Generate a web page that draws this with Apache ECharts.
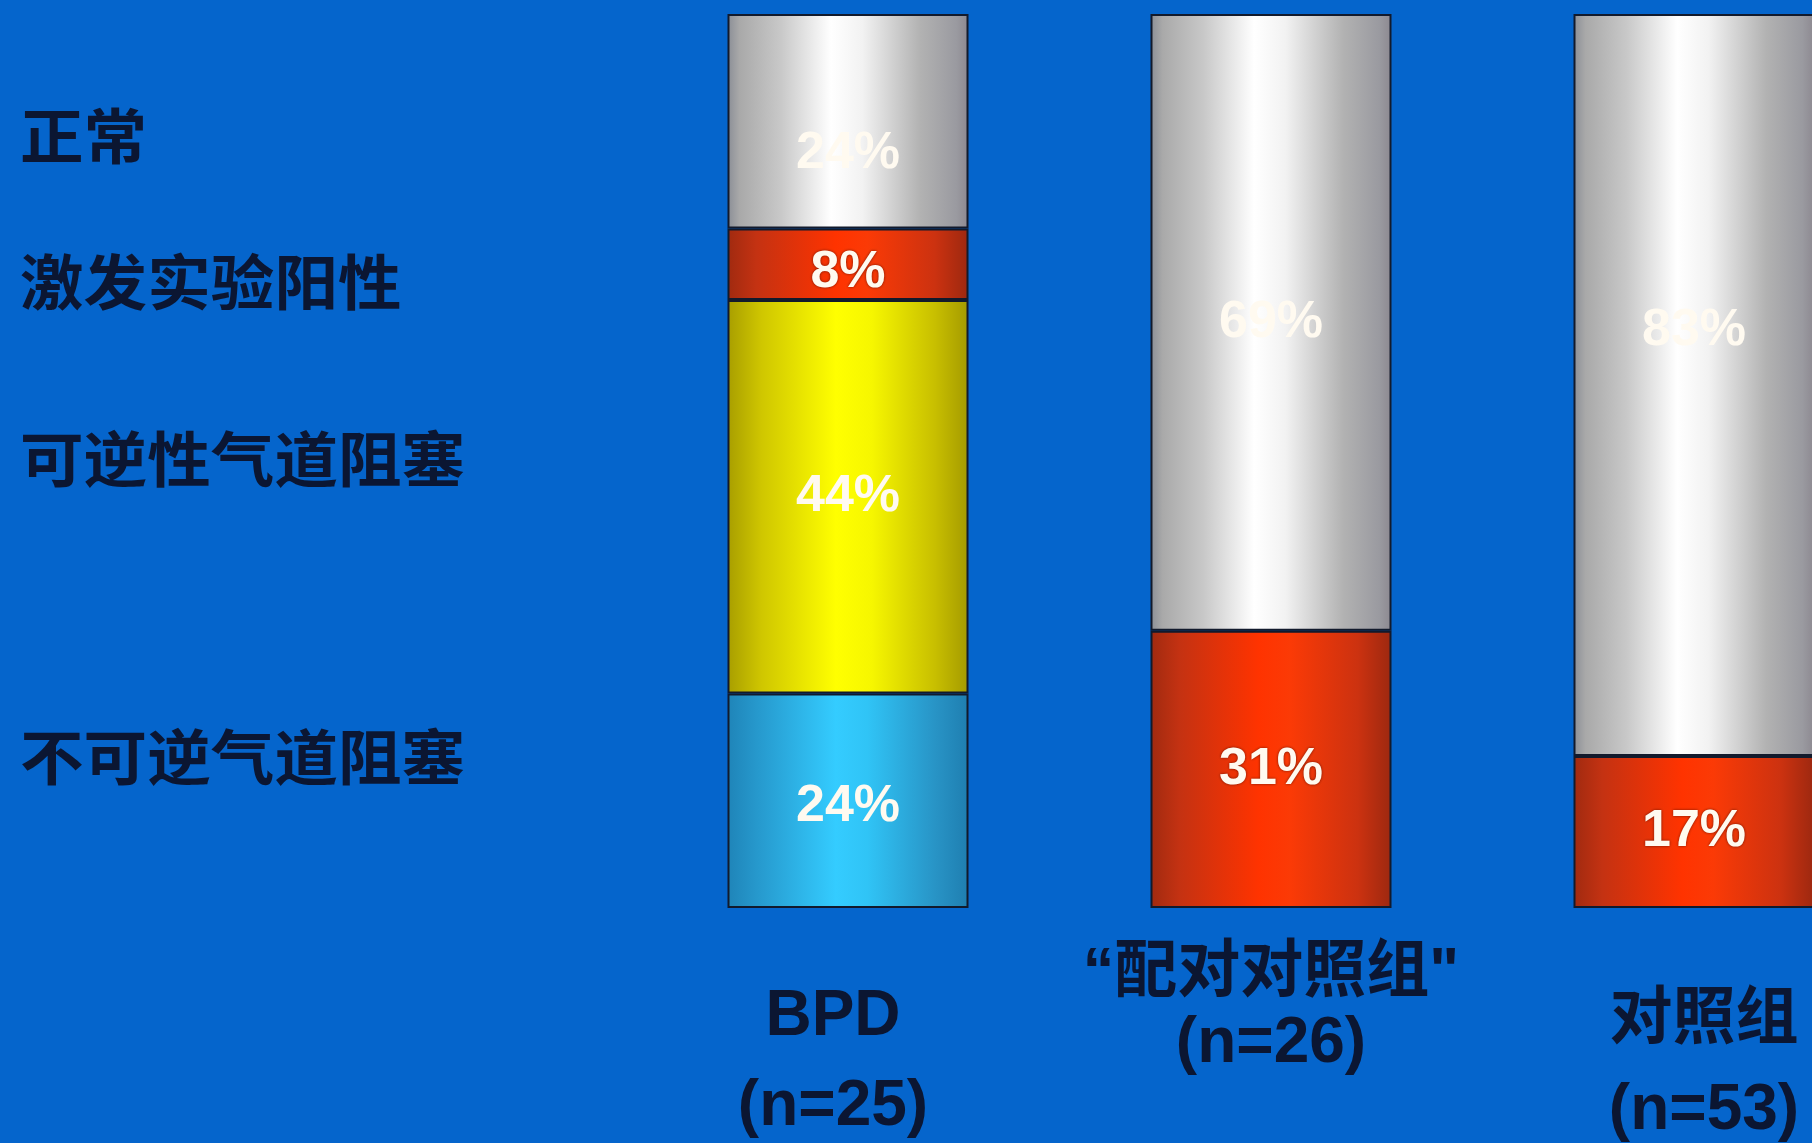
<!DOCTYPE html>
<html>
<head>
<meta charset="utf-8">
<script src="https://cdn.jsdelivr.net/npm/echarts@6/dist/echarts.min.js"></script>
<style>
  html, body { margin: 0; padding: 0; background: #0565cc; overflow: hidden; }
  /* the last column runs past the right edge of the page */
  #chart { width: 1910px; height: 1143px; }
</style>
</head>
<body>
<div id="chart"></div>
<script>
// Groups and their sample sizes
const groups = ['BPD', '“配对对照组"', '对照组'];
const groupSizes = [25, 26, 53];

// Lung-function outcome shares (%) per group, stacked bottom to top
const statusNames = ['不可逆气道阻塞', '可逆性气道阻塞', '激发实验阳性', '正常'];
const irreversible = [24, 0, 0];
const reversible = [44, 0, 0];
const provocationPositive = [8, 31, 17];
const normal = [24, 69, 83];

const chart = echarts.init(document.getElementById('chart'), null, { renderer: 'canvas' });

const TEXT_DARK = '#0b1632';
const FONT_FAMILY = '"Liberation Sans", "Noto Sans CJK SC", sans-serif';

function hGradient(stops) {
  return {
    type: 'linear', x: 0, y: 0, x2: 1, y2: 0,
    colorStops: stops.map(([offset, color]) => ({ offset, color }))
  };
}

const fills = {
  blue: hGradient([[0, '#1f84b8'], [0.12, '#2698cc'], [0.45, '#34ccff'], [0.58, '#30c4f6'], [0.86, '#2894c6'], [1, '#1f7eb0']]),
  yellow: hGradient([[0, '#a89e00'], [0.14, '#cfc600'], [0.45, '#ffff00'], [0.6, '#f6f600'], [0.86, '#c8bf00'], [1, '#a49a00']]),
  red: hGradient([[0, '#a02a10'], [0.12, '#c43212'], [0.45, '#ff3300'], [0.58, '#fb3a06'], [0.86, '#cc3210'], [1, '#9c2810']]),
  gray: hGradient([[0, '#8a8e96'], [0.05, '#a9a9a9'], [0.22, '#c8c8c8'], [0.43, '#ffffff'], [0.56, '#f2f2f2'], [0.8, '#b2b2b2'], [0.95, '#9a9aa0'], [1, '#8c8890']])
};

// vertical nudges for the in-bar percentage labels, per group
const labelNudges = {
  irreversible: [6, 0, 0],
  reversible: [0, 0, 0],
  provocationPositive: [8, 0, 0],
  normal: [32, 0, -54]
};

function buildData(values, nudges) {
  return values.map((v, i) => ({
    value: v === 0 ? '-' : v,
    label: { offset: [0, nudges[i]] }
  }));
}

const labelBase = {
  show: true,
  position: 'inside',
  fontFamily: FONT_FAMILY,
  fontWeight: 'bold',
  fontSize: 52,
  color: '#fffaf0',
  formatter: p => (typeof p.value === 'number' ? p.value + '%' : '')
};

function barSeries(name, values, fill, nudges, shadow) {
  return {
    name,
    type: 'bar',
    stack: 'total',
    barWidth: 241,
    data: buildData(values, nudges),
    itemStyle: { color: fill, borderColor: '#121a2c', borderWidth: 2 },
    label: Object.assign({}, labelBase, shadow ? {
      textShadowColor: 'rgba(70,10,0,0.75)', textShadowBlur: 3
    } : {}),
    emphasis: { disabled: true },
    silent: true
  };
}

// status captions on the left, next to the BPD segments they describe
const captionY = [757, 459, 282, 136];

const nameStyle = { fontSize: 63, fontWeight: 'bold', fontFamily: FONT_FAMILY, color: TEXT_DARK };
const sizeStyle = { fontSize: 64, fontWeight: 'bold', fontFamily: FONT_FAMILY, color: TEXT_DARK };

const option = {
  backgroundColor: '#0565cc',
  animation: false,
  grid: { left: 636.5, width: 1269, top: 14, height: 898, containLabel: false },
  xAxis: {
    type: 'category',
    data: groups,
    axisLine: { show: false },
    axisTick: { show: false },
    splitLine: { show: false },
    axisLabel: {
      interval: 0,
      margin: 22,
      color: TEXT_DARK,
      fontFamily: FONT_FAMILY,
      fontWeight: 'bold',
      formatter: (value, idx) => {
        const n = '(n=' + groupSizes[idx] + ')';
        if (idx === 0) return '{gap0| }\n{name0|' + value + '}\n{size0|' + n + '}';
        if (idx === 1) return '{name1|' + value + '}\n{size1|' + n + '}';
        return '{gap2| }\n{name2|' + value + '}\n{size2|' + n + '}';
      },
      rich: {
        gap0: { fontSize: 10, lineHeight: 42 },
        name0: Object.assign({}, sizeStyle, { lineHeight: 90, padding: [0, 30, 0, 0] }),
        size0: Object.assign({}, sizeStyle, { lineHeight: 90, padding: [0, 30, 0, 0] }),
        name1: Object.assign({}, nameStyle, { lineHeight: 88 }),
        size1: Object.assign({}, sizeStyle, { lineHeight: 52 }),
        gap2: { fontSize: 10, lineHeight: 46 },
        name2: Object.assign({}, nameStyle, { lineHeight: 90, padding: [0, 0, 0, 20] }),
        size2: Object.assign({}, sizeStyle, { lineHeight: 90, padding: [0, 0, 0, 20] })
      }
    }
  },
  yAxis: { type: 'value', min: 0, max: 100, show: false },
  series: [
    barSeries(statusNames[0], irreversible, fills.blue, labelNudges.irreversible, false),
    barSeries(statusNames[1], reversible, fills.yellow, labelNudges.reversible, false),
    barSeries(statusNames[2], provocationPositive, fills.red, labelNudges.provocationPositive, true),
    barSeries(statusNames[3], normal, fills.gray, labelNudges.normal, false)
  ],
  graphic: statusNames.map((name, i) => ({
    type: 'text',
    x: 20,
    y: captionY[i],
    scaleX: 1.06,
    silent: true,
    style: {
      text: name,
      fill: TEXT_DARK,
      font: 'bold 60px "Noto Sans CJK SC", sans-serif',
      verticalAlign: 'middle',
      align: 'left'
    }
  }))
};

chart.setOption(option);
</script>
</body>
</html>
